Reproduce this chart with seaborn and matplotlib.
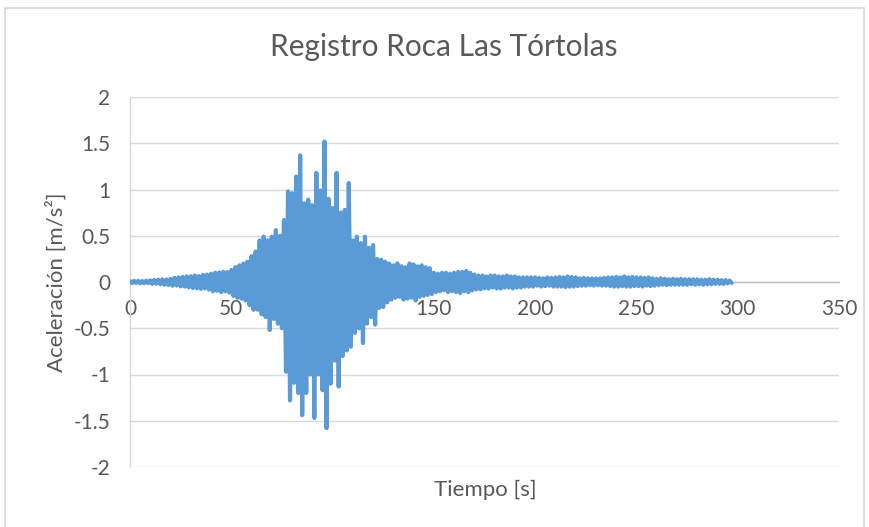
import matplotlib
matplotlib.use("Agg")
import matplotlib.pyplot as plt
import seaborn as sns
import pandas as pd
import numpy as np
from matplotlib.patches import Rectangle

# ---- data (one value per second) ----
accel = [
    0.01, -0.012, 0.013, -0.01, 0.012, -0.014, 0.011, -0.013, 0.015, -0.012,
    0.018, -0.02, 0.022, -0.019, 0.025, -0.023, 0.028, -0.03, 0.027, -0.032,
    0.035, -0.04, 0.045, -0.038, 0.05, -0.047, 0.055, -0.05, 0.06, -0.058,
    0.062, -0.065, 0.07, -0.068, 0.065, -0.075, 0.078, -0.07, 0.08, -0.082,
    0.09, -0.1, 0.1, -0.095, 0.105, -0.11, 0.11, -0.1, 0.108, -0.115,
    0.13, -0.15, 0.16, -0.17, 0.18, -0.18, 0.2, -0.2, 0.22, -0.25,
    0.28, -0.3, 0.33, -0.3, 0.45, -0.35, 0.49, -0.38, 0.45, -0.52,
    0.49, -0.4, 0.56, -0.45, 0.5, -0.5, 0.67, -0.97, 0.98, -1.28,
    0.96, -1.09, 1.14, -1.2, 1.37, -1.44, 0.85, -1.2, 0.89, -1.0,
    0.83, -1.47, 1.18, -1.0, 0.99, -1.17, 1.52, -1.58, 0.9, -1.1,
    0.8, -0.85, 1.18, -1.13, 0.75, -0.8, 0.78, -0.74, 1.07, -0.7,
    0.45, -0.55, 0.49, -0.5, 0.42, -0.66, 0.49, -0.45, 0.37, -0.38,
    0.4, -0.46, 0.25, -0.28, 0.24, -0.27, 0.22, -0.22, 0.2, -0.19,
    0.18, -0.17, 0.2, -0.16, 0.17, -0.19, 0.16, -0.18, 0.2, -0.17,
    0.19, -0.2, 0.17, -0.16, 0.18, -0.15, 0.16, -0.14, 0.15, -0.13,
    0.1, -0.11, 0.09, -0.1, 0.1, -0.09, 0.1, -0.11, 0.09, -0.1,
    0.1, -0.11, 0.11, -0.12, 0.11, -0.1, 0.12, -0.11, 0.1, -0.09,
    0.08, -0.08, 0.07, -0.08, 0.07, -0.07, 0.06, -0.07, 0.07, -0.06,
    0.07, -0.07, 0.06, -0.07, 0.06, -0.06, 0.07, -0.06, 0.06, -0.07,
    0.06, -0.06, 0.05, -0.06, 0.05, -0.05, 0.05, -0.05, 0.05, -0.05,
    0.05, -0.04, 0.045, -0.05, 0.04, -0.045, 0.05, -0.04, 0.045, -0.05,
    0.05, -0.05, 0.055, -0.05, 0.05, -0.055, 0.06, -0.05, 0.055, -0.05,
    0.05, -0.045, 0.04, -0.04, 0.045, -0.04, 0.04, -0.035, 0.04, -0.04,
    0.04, -0.035, 0.04, -0.04, 0.045, -0.04, 0.05, -0.045, 0.05, -0.05,
    0.055, -0.05, 0.05, -0.045, 0.06, -0.05, 0.05, -0.05, 0.055, -0.045,
    0.05, -0.045, 0.05, -0.05, 0.045, -0.04, 0.05, -0.045, 0.04, -0.04,
    0.035, -0.035, 0.04, -0.03, 0.035, -0.035, 0.03, -0.03, 0.035, -0.03,
    0.03, -0.03, 0.035, -0.03, 0.03, -0.03, 0.03, -0.025, 0.03, -0.03,
    0.03, -0.025, 0.025, -0.03, 0.025, -0.025, 0.03, -0.025, 0.025, -0.02,
    0.025, -0.02, 0.02, -0.02, 0.02, -0.015, 0.015, -0.01,
]
tiempo = list(range(len(accel)))  # seconds, 1 s spacing

x_ticks = [0, 50, 100, 150, 200, 250, 300, 350]
y_ticks = [-2, -1.5, -1, -0.5, 0, 0.5, 1, 1.5, 2]
y_tick_labels = ["-2", "-1.5", "-1", "-0.5", "0", "0.5", "1", "1.5", "2"]

title = "Registro Roca Las Tórtolas"
x_label = "Tiempo [s]"
y_label = "Aceleración [m/s²]"

df = pd.DataFrame({"t": tiempo, "a": accel})

sns.set_style("white")
plt.rcParams["font.family"] = ["Lato", "DejaVu Sans"]

W, H = 870, 527
fig = plt.figure(figsize=(W / 100, H / 100), dpi=100)
ax = fig.add_axes([130 / W, 1 - 467 / H, (839 - 130) / W, (467 - 97) / H])

grid_c = "#D9D9D9"
text_c = "#595959"

sns.lineplot(data=df, x="t", y="a", ax=ax, color="#5B9BD5", linewidth=3.0,
             sort=False, estimator=None, zorder=3)

ax.set_xlim(0, 350)
ax.set_ylim(-2, 2)
ax.set_xticks(x_ticks)
ax.set_yticks(y_ticks)
ax.set_yticklabels(y_tick_labels)
ax.yaxis.grid(True, color=grid_c, linewidth=1.0)
ax.xaxis.grid(False)
ax.set_axisbelow(True)

for s in ["top", "right"]:
    ax.spines[s].set_visible(False)
ax.spines["left"].set_color(grid_c)
ax.spines["left"].set_linewidth(1.0)
ax.spines["bottom"].set_position(("data", 0))
ax.spines["bottom"].set_color("#BFBFBF")
ax.spines["bottom"].set_linewidth(1.0)
ax.spines["bottom"].set_zorder(2)

ax.tick_params(axis="both", length=0, labelsize=15, colors=text_c)
ax.tick_params(axis="x", pad=12)
ax.tick_params(axis="y", pad=14)

ax.set_xlabel("")
ax.set_ylabel("")
fig.text(485 / W, 1 - 490 / H, x_label, ha="center", va="center",
         fontsize=16, color=text_c)
fig.text(56 / W, 1 - 282 / H, y_label, ha="center", va="center",
         rotation=90, fontsize=16, color=text_c)
fig.text(444 / W, 1 - 47 / H, title, ha="center", va="center",
         fontsize=21.5, color=text_c)

# outer chart border
fig.patches.append(Rectangle((5 / W, -0.05), (864 - 5) / W, 1 - 8 / H + 0.05,
                             transform=fig.transFigure, fill=False,
                             edgecolor="#D9D9D9", linewidth=1.2))

fig.savefig("out.png", dpi=100)
